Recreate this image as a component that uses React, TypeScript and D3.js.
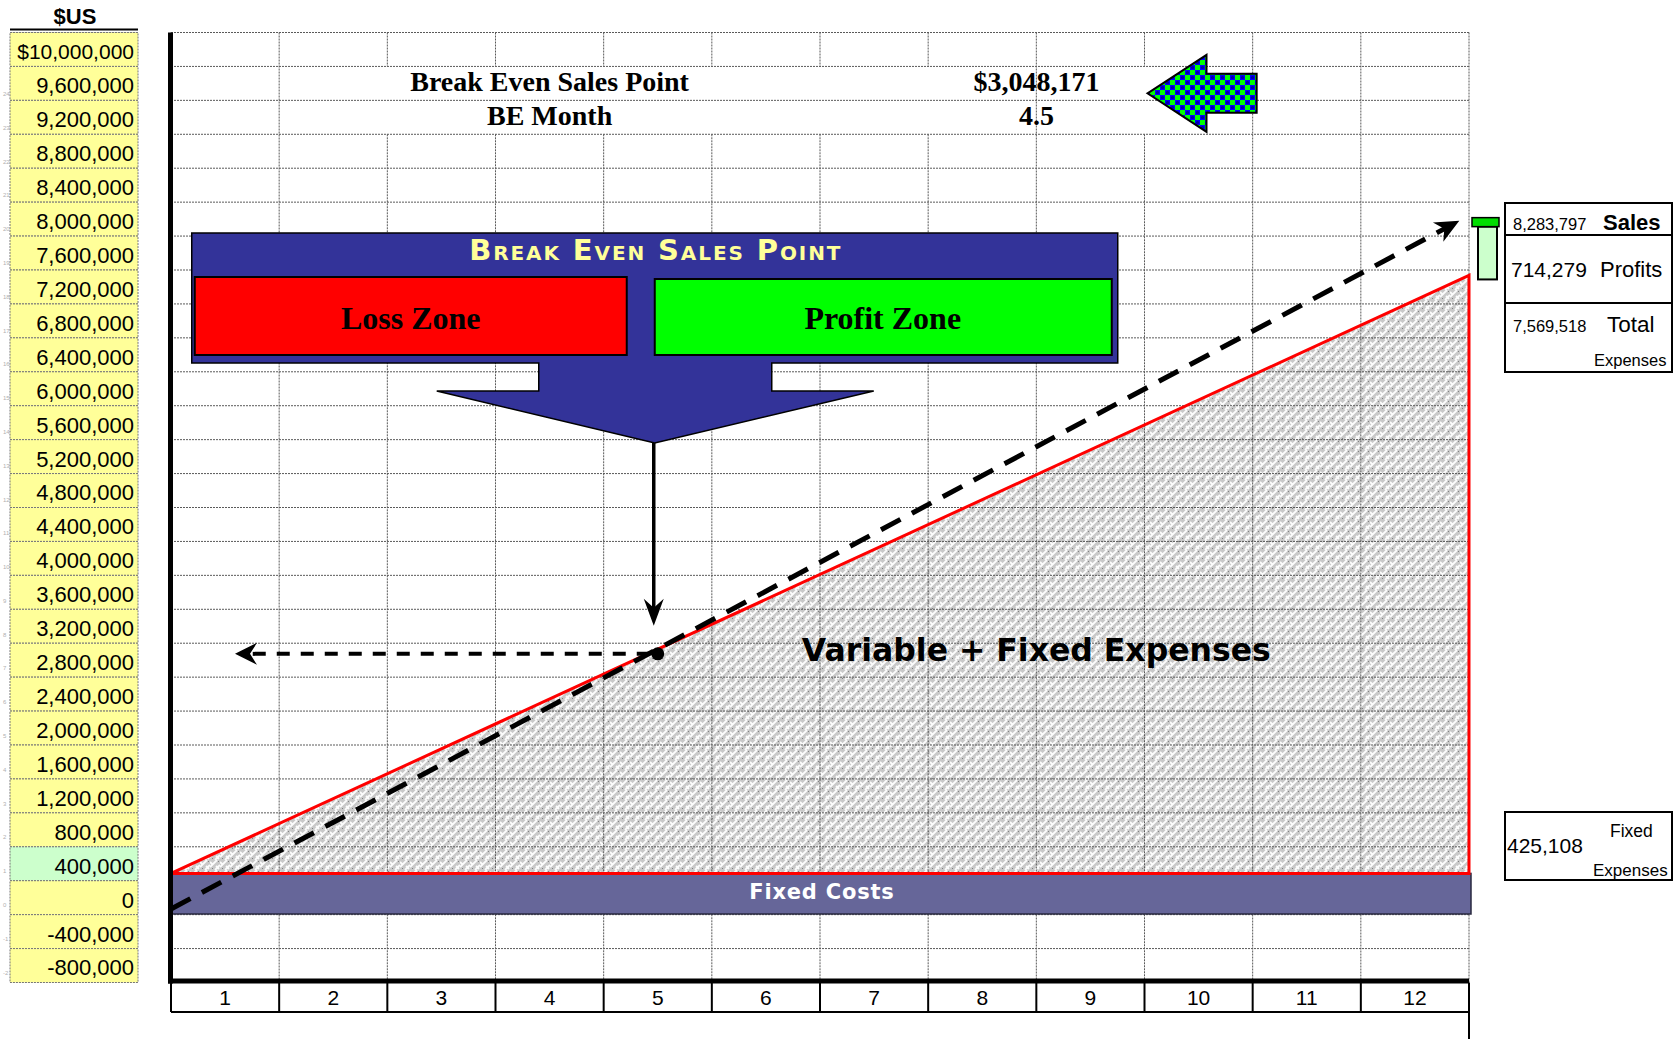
/**
 * Break-even chart: spreadsheet grid, $US cell labels, sales line vs expenses area
 */
import { useEffect, useRef } from 'react';
import * as d3 from 'd3';

const WIDTH = 1674;
const HEIGHT = 1039;

// $US column labels, top to bottom
const Y_TICK_LABELS = [
  10000000, 9600000, 9200000, 8800000, 8400000, 8000000, 7600000, 7200000, 6800000,
  6400000, 6000000, 5600000, 5200000, 4800000, 4400000, 4000000, 3600000, 3200000,
  2800000, 2400000, 2000000, 1600000, 1200000, 800000, 400000, 0, -400000, -800000,
];
const HIGHLIGHT_TICK = 400000;
// faint numbers of the hidden chart axis at the far left
const MINI_TICKS = [24, 23, 22, 21, 20, 19, 18, 17, 16, 15, 14, 13, 12, 11, 10, 9, 8, 7, 6, 5, 4, 3, 2, 1, 0, -1, -2];
const MONTHS = [1, 2, 3, 4, 5, 6, 7, 8, 9, 10, 11, 12];

// line end points (month 0 -> month 12)
const LINE_MONTHS = [0, 12];
const SALES = [0, 8283797];
const TOTAL_EXPENSES = [425108, 7569518];
const FIXED_EXPENSES = 425108;
const PROFITS = 714279;

const BE_SALES = 3048171;
const BE_MONTH = 4.5;

const SANS = "'Liberation Sans', Arial, sans-serif";
const SERIF = "'Liberation Serif', 'Times New Roman', serif";
const HEAVY = "'DejaVu Sans', sans-serif";

export default function App() {
  const svgRef = useRef<SVGSVGElement>(null);

  useEffect(() => {
    if (!svgRef.current) return;
    const svg = d3.select(svgRef.current);
    svg.selectAll('*').remove();

    const x = d3.scaleLinear().domain([0, 12]).range([171, 1469]);
    const y = d3.scaleLinear().domain([0, 10000000]).range([909, 72]);
    const rows = d3.scaleBand<number>().domain(Y_TICK_LABELS).range([32.5, 982.5]);
    const rowH = rows.bandwidth();
    const rowTop = (i: number) => rows(Y_TICK_LABELS[i])!;
    const [gridTop, gridBottom] = rows.range();
    const yMini = d3.scaleLinear().domain([0, 24]).range([905, 94]);
    const fmt = (v: number) => (v < 0 ? '-' : '') + d3.format(',')(Math.abs(v));
    const line = d3.line();

    // ── patterns ──
    const defs = svg.append('defs');
    const weave = defs.append('pattern').attr('id', 'weave')
      .attr('patternUnits', 'userSpaceOnUse').attr('width', 10).attr('height', 10);
    weave.append('rect').attr('width', 10).attr('height', 10).attr('fill', '#c9c9c9');
    weave.append('path')
      .attr('d', 'M0,7 L7,0 M5,10 L10,5 M0,2 L3,5 M6,6 L9,9')
      .attr('stroke', '#fcfcfc').attr('stroke-width', 1.9).attr('fill', 'none');
    weave.append('rect').attr('x', 8).attr('y', 1).attr('width', 1).attr('height', 1).attr('fill', '#808080');
    weave.append('rect').attr('x', 2).attr('y', 8).attr('width', 1).attr('height', 1).attr('fill', '#808080');

    const checker = defs.append('pattern').attr('id', 'checker')
      .attr('patternUnits', 'userSpaceOnUse').attr('width', 10).attr('height', 10);
    checker.append('rect').attr('width', 10).attr('height', 10).attr('fill', '#0000ff');
    checker.append('rect').attr('width', 5).attr('height', 5).attr('fill', '#00ff00');
    checker.append('rect').attr('x', 5).attr('y', 5).attr('width', 5).attr('height', 5).attr('fill', '#00ff00');
    checker.append('circle').attr('cx', 7.5).attr('cy', 2.5).attr('r', 1.6).attr('fill', '#0000a0');
    checker.append('circle').attr('cx', 2.5).attr('cy', 7.5).attr('r', 1.6).attr('fill', '#0000a0');

    // ── $US label column ──
    svg.append('text')
      .attr('x', 75).attr('y', 24).attr('text-anchor', 'middle')
      .attr('font-family', SANS).attr('font-weight', 'bold').attr('font-size', 22)
      .text('$US');
    svg.append('line').attr('x1', 10).attr('x2', 138).attr('y1', 29.5).attr('y2', 29.5)
      .attr('stroke', '#000').attr('stroke-width', 2);
    svg.append('line').attr('x1', 10).attr('x2', 138).attr('y1', 33.5).attr('y2', 33.5)
      .attr('stroke', '#000').attr('stroke-width', 1.5);

    const col = svg.append('g');
    col.selectAll('rect')
      .data(Y_TICK_LABELS)
      .enter()
      .append('rect')
      .attr('x', 10).attr('y', (d) => rows(d)!)
      .attr('width', 128).attr('height', rowH)
      .attr('fill', (d) => (d === HIGHLIGHT_TICK ? '#ccffcc' : '#ffff99'))
      .attr('stroke', '#777').attr('stroke-dasharray', '2,1');
    col.selectAll('text')
      .data(Y_TICK_LABELS)
      .enter()
      .append('text')
      .attr('x', 134).attr('y', (d) => rows(d)! + rowH / 2 + 2).attr('dy', '0.36em')
      .attr('text-anchor', 'end')
      .attr('font-family', SANS).attr('font-size', (d, i) => (i === 0 ? 21 : 22))
      .text((d, i) => (i === 0 ? '$' : '') + fmt(d));

    svg.append('g').selectAll('text')
      .data(MINI_TICKS)
      .enter()
      .append('text')
      .attr('x', 3).attr('y', (d) => yMini(d) + 2)
      .attr('font-family', SANS).attr('font-size', 6).attr('fill', '#b0b0b0')
      .text((d) => String(d));

    // ── expenses area (pattern) ──
    const areaPts: [number, number][] = [
      [x(LINE_MONTHS[0]), y(TOTAL_EXPENSES[0])],
      [x(LINE_MONTHS[1]), y(TOTAL_EXPENSES[1])],
      [x(LINE_MONTHS[1]), y(FIXED_EXPENSES)],
    ];
    svg.append('path').attr('d', line(areaPts) + 'Z').attr('fill', 'url(#weave)');

    // ── spreadsheet grid ──
    const grid = svg.append('g').attr('stroke', '#5a5a5a').attr('stroke-dasharray', '2,1').attr('stroke-width', 1);
    grid.selectAll('line.h')
      .data(d3.range(Y_TICK_LABELS.length + 1))
      .enter()
      .append('line')
      .attr('x1', x(0)).attr('x2', x(12))
      .attr('y1', (i) => gridTop + i * rowH).attr('y2', (i) => gridTop + i * rowH);
    // header rows 2-3 are merged cells: months 2..7 and 9 have no border there
    const merged = new Set([2, 3, 4, 5, 6, 7, 9]);
    const vSegs: [number, number, number][] = [];
    d3.range(13).forEach((m) => {
      if (merged.has(m)) {
        vSegs.push([m, gridTop, rowTop(1)]);
        vSegs.push([m, rowTop(3), gridBottom]);
      } else {
        vSegs.push([m, gridTop, gridBottom]);
      }
    });
    grid.selectAll('line.v')
      .data(vSegs)
      .enter()
      .append('line')
      .attr('x1', (d) => x(d[0])).attr('x2', (d) => x(d[0]))
      .attr('y1', (d) => d[1]).attr('y2', (d) => d[2]);

    // ── header: break even values ──
    const r1 = rowTop(1) + rowH / 2 - 2;
    const r2 = rowTop(2) + rowH / 2 - 2;
    const headerText = (tx: number, ty: number, s: string) =>
      svg.append('text')
        .attr('x', tx).attr('y', ty).attr('dy', '0.34em').attr('text-anchor', 'middle')
        .attr('font-family', SERIF).attr('font-weight', 'bold').attr('font-size', 28)
        .text(s);
    headerText((x(1) + x(6)) / 2, r1, 'Break Even Sales Point');
    headerText((x(1) + x(6)) / 2, r2, 'BE Month');
    headerText(x(8.5) - 54, r1, '$' + fmt(BE_SALES));
    headerText(x(8.5) - 54, r2, String(BE_MONTH));

    // checkered arrow pointing at the value
    const acy = rowTop(2) - 7;
    const tipX = x(9) + 3;
    const backX = x(9) + 62;
    const endX = x(10) + 4;
    const arrowPts: [number, number][] = [
      [tipX, acy], [backX, acy - 38.5], [backX, acy - 19.5], [endX, acy - 19.5],
      [endX, acy + 19.5], [backX, acy + 19.5], [backX, acy + 38.5],
    ];
    svg.append('path').attr('d', line(arrowPts) + 'Z')
      .attr('fill', 'url(#checker)').attr('stroke', '#000').attr('stroke-width', 2);

    // ── fixed costs bar ──
    svg.append('rect')
      .attr('x', x(0)).attr('y', y(FIXED_EXPENSES))
      .attr('width', x(12) - x(0) + 2).attr('height', y(0) - y(FIXED_EXPENSES) + 5)
      .attr('fill', '#666699').attr('stroke', '#2a2a40').attr('stroke-width', 1.5);
    svg.append('text')
      .attr('x', x(6) + 2).attr('y', (y(FIXED_EXPENSES) + y(0) + 5) / 2 - 2).attr('dy', '0.36em')
      .attr('text-anchor', 'middle')
      .attr('font-family', HEAVY).attr('font-weight', 'bold').attr('font-size', 21)
      .attr('letter-spacing', 0.8).attr('fill', '#fff')
      .text('Fixed Costs');

    // ── total expenses outline ──
    svg.append('path').attr('d', line(areaPts) + 'Z')
      .attr('fill', 'none').attr('stroke', '#ff0000').attr('stroke-width', 3);

    // ── sales line (dashed, arrow at the end) ──
    const s0: [number, number] = [x(LINE_MONTHS[0]), y(SALES[0])];
    const s1: [number, number] = [x(LINE_MONTHS[1]), y(SALES[1])];
    const ang = Math.atan2(s1[1] - s0[1], s1[0] - s0[0]);
    const tip: [number, number] = [s1[0] - 11 * Math.cos(ang), s1[1] - 11 * Math.sin(ang)];
    const lineEnd: [number, number] = [tip[0] - 16 * Math.cos(ang), tip[1] - 16 * Math.sin(ang)];
    svg.append('path').attr('d', line([s0, lineEnd]))
      .attr('stroke', '#000').attr('stroke-width', 5).attr('stroke-dasharray', '22,13').attr('fill', 'none');
    svg.append('path')
      .attr('d', 'M0,0 L-24,-11 L-17,0 L-24,11 Z')
      .attr('transform', `translate(${tip[0]},${tip[1]}) rotate(${(ang * 180) / Math.PI})`)
      .attr('fill', '#000');

    // ── break even callout ──
    const cx = x(BE_MONTH) - 3;
    const calloutPts: [number, number][] = [
      [cx - 463, 233], [cx + 463, 233], [cx + 463, 363], [cx + 117, 363], [cx + 117, 391],
      [cx + 219, 391], [cx, 443], [cx - 218, 391], [cx - 116, 391], [cx - 116, 363], [cx - 463, 363],
    ];
    svg.append('path').attr('d', line(calloutPts) + 'Z')
      .attr('fill', '#333399').attr('stroke', '#000').attr('stroke-width', 1.5);
    svg.append('text')
      .attr('x', cx + 1).attr('y', 260).attr('text-anchor', 'middle')
      .attr('font-family', HEAVY).attr('font-weight', 'bold').attr('font-size', 29)
      .attr('font-variant', 'small-caps').attr('letter-spacing', 1.9)
      .attr('fill', '#ffff99')
      .text('Break Even Sales Point');
    svg.append('rect').attr('x', cx - 460).attr('y', 277).attr('width', 432).attr('height', 78)
      .attr('fill', '#ff0000').attr('stroke', '#000').attr('stroke-width', 2);
    svg.append('rect').attr('x', cx).attr('y', 279).attr('width', 457).attr('height', 76)
      .attr('fill', '#00ff00').attr('stroke', '#000').attr('stroke-width', 2);
    svg.append('text')
      .attr('x', cx - 244).attr('y', 329).attr('text-anchor', 'middle')
      .attr('font-family', SERIF).attr('font-weight', 'bold').attr('font-size', 32)
      .text('Loss Zone');
    svg.append('text')
      .attr('x', cx + 228).attr('y', 329).attr('text-anchor', 'middle')
      .attr('font-family', SERIF).attr('font-weight', 'bold').attr('font-size', 32)
      .text('Profit Zone');

    // ── break even point ──
    const beX = x(BE_MONTH);
    const beY = y(BE_SALES);
    svg.append('line').attr('x1', cx - 1).attr('x2', cx - 1).attr('y1', 443).attr('y2', beY - 44)
      .attr('stroke', '#000').attr('stroke-width', 3.5);
    svg.append('path')
      .attr('d', `M${cx - 1},${beY - 28} L${cx - 11},${beY - 55} L${cx - 1},${beY - 46} L${cx + 9},${beY - 55} Z`)
      .attr('fill', '#000');
    svg.append('line').attr('x1', beX - 8).attr('x2', x(0) + 80).attr('y1', beY).attr('y2', beY)
      .attr('stroke', '#000').attr('stroke-width', 4).attr('stroke-dasharray', '13,11');
    const lx = x(0) + 64;
    svg.append('path')
      .attr('d', `M${lx},${beY} L${lx + 22},${beY - 11} L${lx + 15},${beY} L${lx + 22},${beY + 11} Z`)
      .attr('fill', '#000');
    svg.append('circle').attr('cx', beX).attr('cy', beY).attr('r', 6.5).attr('fill', '#000');

    svg.append('text')
      .attr('x', x(8)).attr('y', beY + 7).attr('text-anchor', 'middle')
      .attr('font-family', HEAVY).attr('font-weight', 'bold').attr('font-size', 31.5)
      .text('Variable + Fixed Expenses');

    // ── axes ──
    svg.append('line').attr('x1', 170.5).attr('x2', 170.5).attr('y1', gridTop).attr('y2', gridBottom + 1)
      .attr('stroke', '#000').attr('stroke-width', 5);
    svg.append('line').attr('x1', 168).attr('x2', x(12)).attr('y1', gridBottom - 1.5).attr('y2', gridBottom - 1.5)
      .attr('stroke', '#000').attr('stroke-width', 5);

    // month label cells
    const xRow = svg.append('g').attr('stroke', '#000').attr('stroke-width', 2);
    xRow.selectAll('line')
      .data(d3.range(13))
      .enter()
      .append('line')
      .attr('x1', (m) => x(m)).attr('x2', (m) => x(m))
      .attr('y1', gridBottom).attr('y2', (m) => (m === 12 ? HEIGHT : 1012));
    xRow.append('line').attr('x1', x(0)).attr('x2', x(12)).attr('y1', 1012).attr('y2', 1012);
    svg.append('g').selectAll('text')
      .data(MONTHS)
      .enter()
      .append('text')
      .attr('x', (m) => x(m - 0.5)).attr('y', 1005).attr('text-anchor', 'middle')
      .attr('font-family', SANS).attr('font-size', 21)
      .text((m) => String(m));

    // ── profit bar next to line ends ──
    const ys = y(SALES[1]);
    const yt = y(TOTAL_EXPENSES[1]);
    svg.append('rect').attr('x', 1478).attr('y', ys + 11).attr('width', 19).attr('height', yt - ys - 7)
      .attr('fill', '#ccffcc').attr('stroke', '#000').attr('stroke-width', 2);
    svg.append('rect').attr('x', 1472).attr('y', ys + 2).attr('width', 27).attr('height', 9)
      .attr('fill', '#00dd00').attr('stroke', '#000').attr('stroke-width', 1.5);

    // ── right summary boxes ──
    const box = svg.append('g');
    box.append('rect').attr('x', 1505).attr('y', 203).attr('width', 167).attr('height', 169)
      .attr('fill', '#fff').attr('stroke', '#000').attr('stroke-width', 2);
    box.append('line').attr('x1', 1505).attr('x2', 1672).attr('y1', 235).attr('y2', 235)
      .attr('stroke', '#000').attr('stroke-width', 2);
    box.append('line').attr('x1', 1505).attr('x2', 1672).attr('y1', 303).attr('y2', 303)
      .attr('stroke', '#000').attr('stroke-width', 2);
    const t = (tx: number, ty: number, size: number, s: string, bold = false) =>
      svg.append('text').attr('x', tx).attr('y', ty)
        .attr('font-family', SANS).attr('font-size', size)
        .attr('font-weight', bold ? 'bold' : 'normal')
        .text(s);
    t(1513, 230, 16.5, fmt(SALES[1]));
    t(1603, 230, 22, 'Sales', true);
    t(1511, 277, 21, fmt(PROFITS));
    t(1600, 277, 22, 'Profits');
    t(1513, 332, 16.5, fmt(TOTAL_EXPENSES[1]));
    t(1607, 332, 22.5, 'Total');
    t(1594, 366, 16.5, 'Expenses');

    box.append('rect').attr('x', 1505).attr('y', 812).attr('width', 167).attr('height', 68)
      .attr('fill', '#fff').attr('stroke', '#000').attr('stroke-width', 2);
    t(1507, 853, 21, fmt(FIXED_EXPENSES));
    t(1610, 837, 17.5, 'Fixed');
    t(1593, 876, 17, 'Expenses');
  }, []);

  return (
    <svg
      ref={svgRef}
      width={WIDTH}
      height={HEIGHT}
      style={{ position: 'absolute', left: 0, top: 0, display: 'block', background: '#fff' }}
    />
  );
}
